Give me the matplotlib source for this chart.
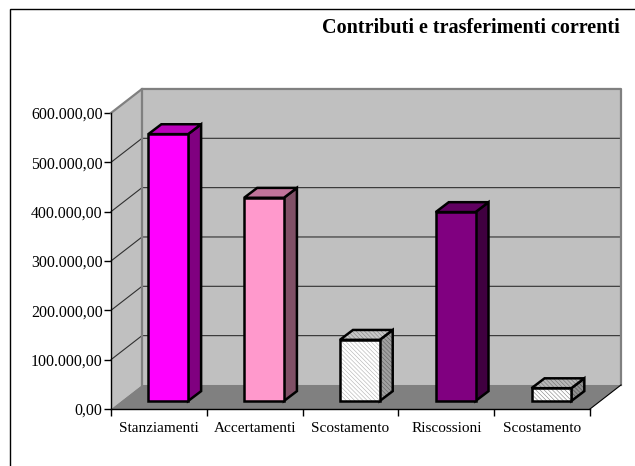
import matplotlib
matplotlib.use('Agg')
import matplotlib.pyplot as plt
from matplotlib.patches import Polygon, Rectangle

categories = ['Stanziamenti', 'Accertamenti', 'Scostamento', 'Riscossioni', 'Scostamento']
values = [541000, 412000, 124000, 383000, 26000]
y_ticks = [0, 100000, 200000, 300000, 400000, 500000, 600000]
y_labels = ['0,00', '100.000,00', '200.000,00', '300.000,00', '400.000,00', '500.000,00', '600.000,00']
front_colors = ['#FF00FF', '#FF99CC', '#FFFFFF', '#800080', '#FFFFFF']
side_colors = ['#800080', '#805066', '#A0A0A0', '#400040', '#909090']
top_colors = ['#BB00BB', '#C0739A', '#C8C8C8', '#600060', '#B8B8B8']
front_hatch = [None, None, '#B0B0B0', None, '#808080']
side_hatch = [None, None, '#606060', None, '#505050']
top_hatch = [None, None, '#808080', None, '#707070']

plt.rcParams['font.family'] = ['Liberation Serif', 'DejaVu Serif']
plt.rcParams['hatch.linewidth'] = 0.4

W, H = 635, 466
fig = plt.figure(figsize=(W / 100, H / 100), dpi=100)
ax = fig.add_axes([111 / W, 1 - 409 / H, 479 / W, 296 / H])
ax.set_xlim(0, 5)
ax.set_ylim(0, 600000)

# outer chart frame, runs off the right and bottom of the image
fig.add_artist(Rectangle((10 / W, -0.05), 1, 1.05 - 9.5 / H, transform=fig.transFigure,
                         fill=False, ec='black', lw=1))

# depth of the 3d box in data units
box_dx = 31 / 95.8
box_dy = 48700
wall_gray = '#C0C0C0'
edge_gray = '#808080'
top = y_ticks[-1]
n = len(categories)

ax.add_patch(Polygon([(0, 0), (box_dx, box_dy), (box_dx, top + box_dy), (0, top)],
                     fc=wall_gray, ec='none', zorder=1, clip_on=False))
ax.add_patch(Polygon([(box_dx, box_dy), (n + box_dx, box_dy), (n + box_dx, top + box_dy), (box_dx, top + box_dy)],
                     fc=wall_gray, ec='none', zorder=1, clip_on=False))
ax.add_patch(Polygon([(0, 0), (n, 0), (n + box_dx, box_dy), (box_dx, box_dy)],
                     fc=edge_gray, ec='none', zorder=2, clip_on=False))

for t in y_ticks[1:-1]:
    ax.plot([0, box_dx, n + box_dx], [t, t + box_dy, t + box_dy], color='#303030', lw=0.8, zorder=3, clip_on=False)

ax.plot([0, box_dx, n + box_dx, n + box_dx], [top, top + box_dy, top + box_dy, box_dy],
        color=edge_gray, lw=1.6, zorder=3, clip_on=False)
ax.plot([box_dx, box_dx], [box_dy, top + box_dy], color=edge_gray, lw=1.6, zorder=3, clip_on=False)
ax.plot([n, n + box_dx], [0, box_dy], color='black', lw=0.8, zorder=3, clip_on=False)


def face(points, color, hatch_color):
    # hatch takes its colour from the edge, so the outline goes on as a second patch
    if hatch_color:
        ax.add_patch(Polygon(points, fc=color, ec=hatch_color, lw=0, hatch='\\\\\\\\\\\\\\\\', zorder=5, clip_on=False))
    else:
        ax.add_patch(Polygon(points, fc=color, ec='none', zorder=5, clip_on=False))
    ax.add_patch(Polygon(points, fill=False, ec='black', lw=1.8, joinstyle='miter', zorder=5, clip_on=False))


# bars: side, top, then front face
bar_w = 0.415
bar_dx = 13 / 95.8
bar_dy = 20000
base_x = 0.39
base_y = 16200
for i, v in enumerate(values):
    x0 = i + base_x
    x1 = x0 + bar_w
    y1 = base_y + v
    face([(x1, base_y), (x1 + bar_dx, base_y + bar_dy), (x1 + bar_dx, y1 + bar_dy), (x1, y1)],
         side_colors[i], side_hatch[i])
    face([(x0, y1), (x1, y1), (x1 + bar_dx, y1 + bar_dy), (x0 + bar_dx, y1 + bar_dy)],
         top_colors[i], top_hatch[i])
    face([(x0, base_y), (x1, base_y), (x1, y1), (x0, y1)], front_colors[i], front_hatch[i])

for s in ['top', 'right']:
    ax.spines[s].set_visible(False)
for s in ['left', 'bottom']:
    ax.spines[s].set_linewidth(1)
    ax.spines[s].set_zorder(6)

ax.set_yticks(y_ticks)
ax.set_yticklabels(y_labels, fontsize=11.4)
ax.set_xticks(range(n + 1))
ax.set_xticklabels([])
ax.set_xticks([i + 0.5 for i in range(n)], minor=True)
ax.set_xticklabels(categories, minor=True, fontsize=11)
ax.tick_params(axis='x', which='minor', length=0, pad=9)
ax.tick_params(axis='x', which='major', length=5, width=1)
ax.tick_params(axis='y', length=5, width=1, pad=1)

fig.text(322 / W, 1 - 28 / H, 'Contributi e trasferimenti correnti', fontsize=14.5, fontweight='bold',
         ha='left', va='center')

fig.savefig('out.png', dpi=100)
